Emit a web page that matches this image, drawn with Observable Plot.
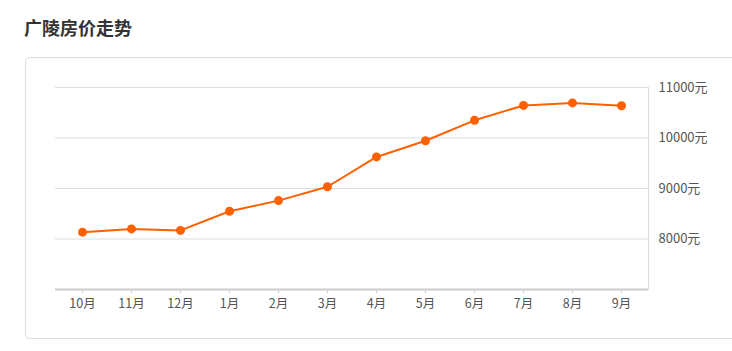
<!DOCTYPE html>
<html><head><meta charset="utf-8">
<script src="https://cdn.jsdelivr.net/npm/d3@7"></script>
<script src="https://cdn.jsdelivr.net/npm/@observablehq/plot@0.6"></script>
<style>
body{margin:0;background:#fff;width:732px;height:351px;overflow:hidden;position:relative;font-family:"Noto Sans CJK SC","Noto Sans",sans-serif;}
#title{position:absolute;left:24px;top:14px;font-size:18px;font-weight:bold;color:#333;}
#panel{position:absolute;left:25px;top:57px;width:730px;height:282px;border:1px solid #ddd;border-radius:4px;box-sizing:border-box;}
#chart{position:absolute;left:0;top:0;}
</style></head>
<body>
<div id="title">广陵房价走势</div>
<div id="panel"></div>
<div id="chart"></div>
<script>
const months = ["10月","11月","12月","1月","2月","3月","4月","5月","6月","7月","8月","9月"];
const prices = [8135, 8200, 8170, 8550, 8760, 9035, 9625, 9945, 10350, 10645, 10695, 10638];
const yTicks = [8000, 9000, 10000, 11000];
const yDomain = [7000, 11000];

const data = months.map((m, i) => ({month: m, price: prices[i]}));
const color = "#ff6000";
const font = '"Noto Sans CJK SC","Noto Sans",sans-serif';

const chart = Plot.plot({
  width: 732, height: 351,
  marginLeft: 55, marginRight: 84, marginTop: 87, marginBottom: 62,
  style: {fontFamily: font, fontSize: "12px", background: "transparent"},
  x: {type: "point", domain: months, padding: 0.5},
  y: {domain: yDomain},
  marks: [
    Plot.ruleY(yTicks, {stroke: "#ddd", strokeWidth: 1}),
    Plot.frame({anchor: "right", stroke: "#ddd"}),
    Plot.ruleY([yDomain[0]], {stroke: "#ccc", strokeWidth: 2}),
    Plot.axisX({anchor: "bottom", tickSize: 4, tickPadding: 6, stroke: "#ccc", strokeOpacity: 1, color: "#555", label: null, fontSize: 12.5}),
    Plot.axisY({anchor: "right", ticks: yTicks, tickSize: 0, tickPadding: 10, tickFormat: d => d + "元", color: "#555", label: null, fontSize: 13, textAnchor: "start"}),
    Plot.line(data, {x: "month", y: "price", stroke: color, strokeWidth: 2}),
    Plot.dot(data, {x: "month", y: "price", fill: color, r: 4.5})
  ]
});
document.getElementById("chart").appendChild(chart);
</script>
</body></html>
